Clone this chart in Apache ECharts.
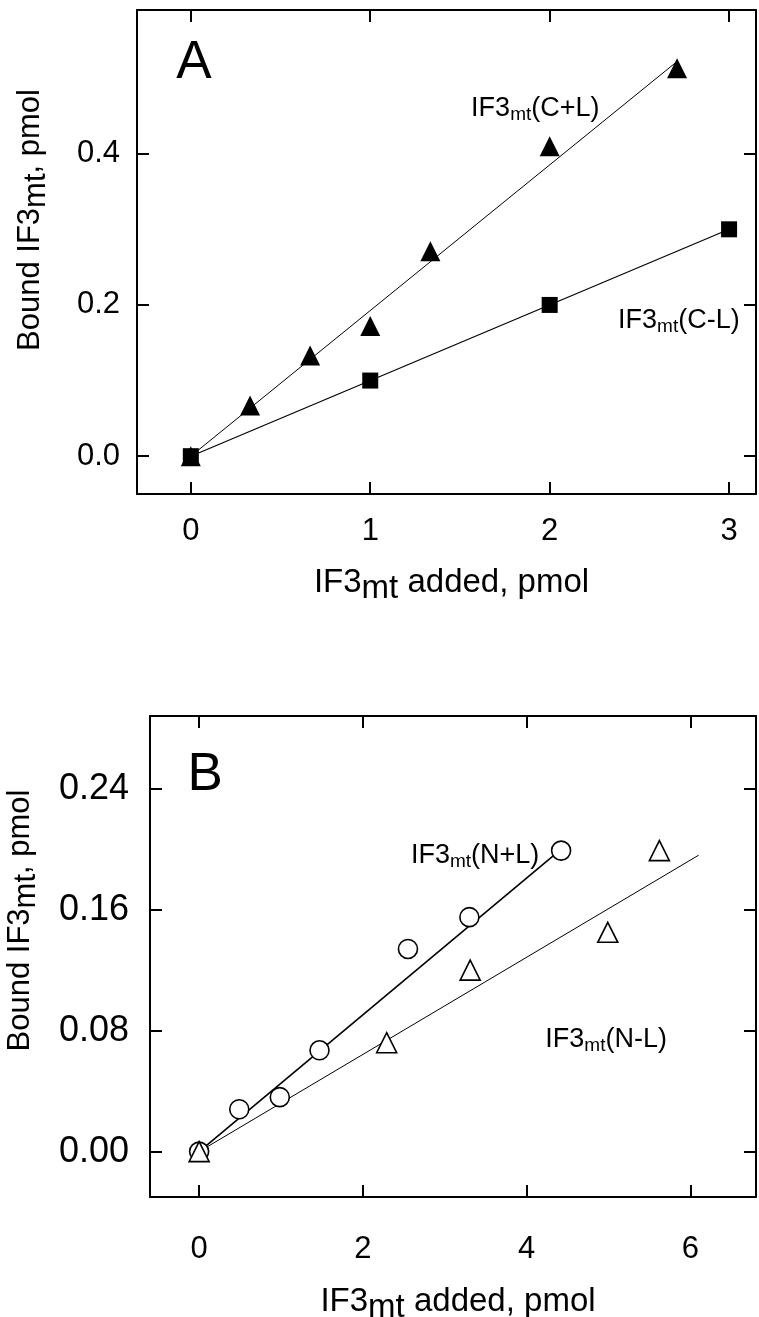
<!DOCTYPE html>
<html><head><meta charset="utf-8">
<script src="https://cdn.jsdelivr.net/npm/echarts@6/dist/echarts.min.js"></script>
<style>html,body{margin:0;padding:0;background:#fff}#c{width:759px;height:1317px}</style>
</head><body><div id="c"></div>
<script>
// ---- Panel A data ----
const aXTicks = [0, 1, 2, 3];
const aYTicks = [0, 0.2, 0.4];
const aCL_plus = [[0, 0], [0.33, 0.067], [0.665, 0.133], [1.0, 0.172], [1.335, 0.271], [2.0, 0.41], [2.71, 0.513]];
const aCL_minus = [[0, 0], [1, 0.1], [2, 0.2], [3, 0.3]];
const aFitPlus = [[0, 0], [2.7, 0.52]];
const aFitMinus = [[0, 0], [3, 0.3]];
// ---- Panel B data ----
const bXTicks = [0, 2, 4, 6];
const bYTicks = [0, 0.08, 0.16, 0.24];
const bNL_plus = [[0, 0], [0.49, 0.028], [0.985, 0.036], [1.47, 0.067], [2.55, 0.134], [3.3, 0.155], [4.42, 0.199]];
const bNL_minus = [[0, 0], [2.29, 0.072], [3.31, 0.12], [4.99, 0.145], [5.62, 0.199]];
const bFitPlus = [[0, 0], [4.4, 0.199]];
const bFitMinus = [[0, 0], [6.1, 0.196]];
// ---- annotations (data coords) ----
const annA = [{ t: 'C+L', v: [1.92, 0.46] }, { t: 'C-L', v: [2.72, 0.18] }];
const annB = [{ t: 'N+L', v: [3.37, 0.196] }, { t: 'N-L', v: [4.97, 0.074] }];

const FONT = 'Liberation Sans, Arial, sans-serif';
const chart = echarts.init(document.getElementById('c'), null, { renderer: 'canvas' });

const lineStyle = { color: '#000', width: 2 };
function titleRich(fs) {
  return {
    a: { fontSize: fs, fontFamily: FONT, color: '#000' },
    s: { fontSize: fs, fontFamily: FONT, color: '#000', padding: [12, 0, 0, 0] }
  };
}
function xAx(grid, min, max, ticks, pos, withLabel, nameGap, labFs, margin) {
  return {
    type: 'value', gridIndex: grid, position: pos, min: min, max: max,
    axisLine: { show: true, onZero: false, lineStyle: lineStyle },
    axisTick: { show: true, inside: true, length: 12, lineStyle: lineStyle, customValues: ticks },
    splitLine: { show: false },
    axisLabel: withLabel ? { show: true, customValues: ticks, margin: margin, color: '#000', fontSize: labFs, fontFamily: FONT, formatter: v => String(v) } : { show: false },
    name: withLabel ? '{a|IF3}{s|mt}{a| added, pmol}' : '',
    nameLocation: 'middle', nameGap: nameGap,
    nameTextStyle: { padding: [0, 0, 0, 10], rich: titleRich(33) }
  };
}
function yAx(grid, min, max, ticks, pos, withLabel, digits, nameGap, shift, labFs, margin) {
  return {
    type: 'value', gridIndex: grid, position: pos, min: min, max: max,
    axisLine: { show: true, onZero: false, lineStyle: lineStyle },
    axisTick: { show: true, inside: true, length: 12, lineStyle: lineStyle, customValues: ticks },
    splitLine: { show: false },
    axisLabel: withLabel ? { show: true, customValues: ticks, margin: margin, color: '#000', fontSize: labFs, fontFamily: FONT, formatter: v => v.toFixed(digits) } : { show: false },
    name: withLabel ? '{a|Bound IF3}{s|mt}{a|, pmol}' : '',
    nameLocation: 'middle', nameGap: nameGap, nameRotate: 90,
    nameTextStyle: { padding: [0, 0, 0, shift], rich: titleRich(31) }
  };
}
const annRich = {
  a: { fontSize: 27, fontFamily: FONT, color: '#000', opacity: 1 },
  s: { fontSize: 19, fontFamily: FONT, color: '#000', opacity: 1, padding: [13, 0, 0, 0] }
};
function annSeries(xi, yi, arr) {
  return {
    type: 'scatter', xAxisIndex: xi, yAxisIndex: yi, symbolSize: 0, silent: true, z: 5,
    itemStyle: { opacity: 1 },
    data: arr.map(d => ({ value: d.v, name: d.t })),
    label: { show: true, position: 'inside', color: '#000', opacity: 1, textBorderWidth: 0, formatter: p => '{a|IF3}{s|mt}{a|(' + p.name + ')}', rich: annRich }
  };
}
function panelLetter(xi, yi, letter, pos) {
  return {
    type: 'scatter', xAxisIndex: xi, yAxisIndex: yi, symbolSize: 0, silent: true,
    itemStyle: { opacity: 1 },
    data: [{ value: pos, name: letter }],
    label: { show: true, position: 'inside', opacity: 1, formatter: p => p.name, fontSize: 53, fontFamily: FONT, color: '#000', textBorderWidth: 0 }
  };
}
function fit(xi, yi, data, w) {
  return { type: 'line', xAxisIndex: xi, yAxisIndex: yi, data: data, symbol: 'none', silent: true, z: 2, lineStyle: { color: '#000', width: w } };
}
function pts(xi, yi, data, symbol, size, filled) {
  return {
    type: 'scatter', xAxisIndex: xi, yAxisIndex: yi, data: data, symbol: symbol, symbolSize: size, z: 4,
    itemStyle: filled ? { color: '#000', borderWidth: 0, opacity: 1 } : { color: '#fff', borderColor: '#000', borderWidth: 1.6, opacity: 1 }
  };
}

chart.setOption({
  animation: false,
  backgroundColor: '#fff',
  grid: [
    { left: 137, top: 10, right: 3, height: 484, outerBoundsMode: 'none', containLabel: false },
    { left: 150, top: 716, right: 3, height: 481, outerBoundsMode: 'none', containLabel: false }
  ],
  xAxis: [
    xAx(0, -0.3, 3.15, aXTicks, 'bottom', true, 66, 31, 22),
    xAx(0, -0.3, 3.15, aXTicks, 'top', false, 0, 31, 22),
    xAx(1, -0.6, 6.8, bXTicks, 'bottom', true, 82, 31, 37),
    xAx(1, -0.6, 6.8, bXTicks, 'top', false, 0, 31, 37)
  ],
  yAxis: [
    yAx(0, -0.05, 0.59, aYTicks, 'left', true, 1, 85, 64, 31, 17),
    yAx(0, -0.05, 0.59, aYTicks, 'right', false, 1, 0, 0, 31, 17),
    yAx(1, -0.03, 0.288, bYTicks, 'left', true, 2, 108, 72, 36, 21),
    yAx(1, -0.03, 0.288, bYTicks, 'right', false, 2, 0, 0, 36, 21)
  ],
  series: [
    fit(0, 0, aFitPlus, 1),
    fit(0, 0, aFitMinus, 1.2),
    pts(0, 0, aCL_minus, 'rect', 16, true),
    pts(0, 0, aCL_plus, 'triangle', 20, true),
    annSeries(0, 0, annA),
    panelLetter(0, 0, 'A', [0.017, 0.52]),
    fit(2, 2, bFitPlus, 1.6),
    fit(2, 2, bFitMinus, 1),
    pts(2, 2, bNL_plus, 'circle', 19, false),
    pts(2, 2, bNL_minus, 'triangle', 20, false),
    annSeries(2, 2, annB),
    panelLetter(2, 2, 'B', [0.073, 0.249])
  ]
});
</script></body></html>
